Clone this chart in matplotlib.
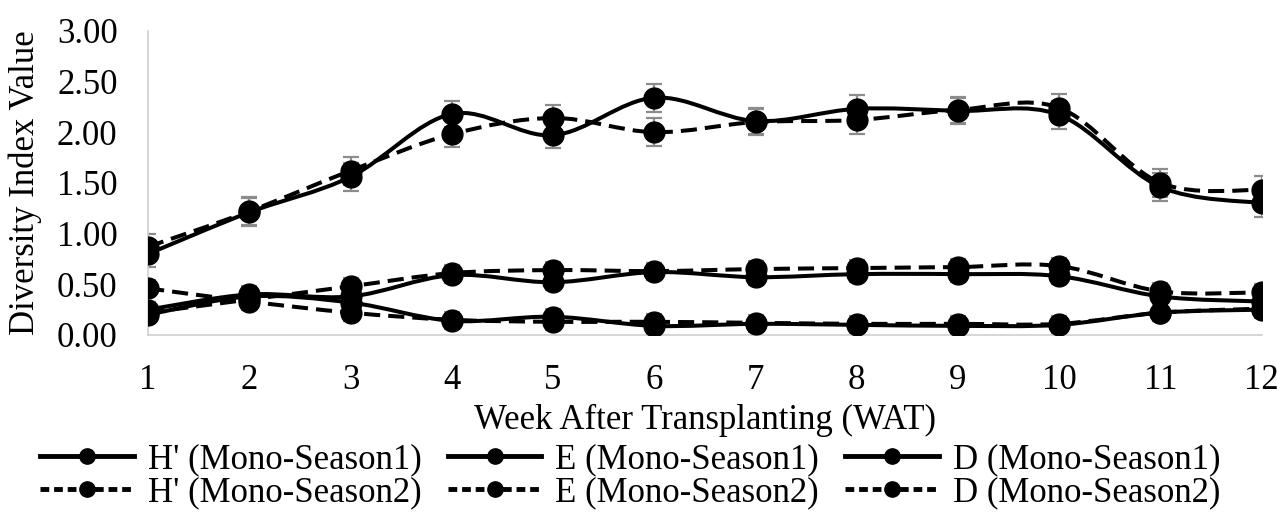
import numpy as np
import matplotlib.pyplot as plt
from matplotlib.path import Path
from matplotlib.patches import PathPatch
from matplotlib.lines import Line2D

plt.rcParams['font.family'] = ['Liberation Serif', 'DejaVu Serif']

WEEKS = [1, 2, 3, 4, 5, 6, 7, 8, 9, 10, 11, 12]

# Shannon H'
H_S1 = [0.80, 1.21, 1.56, 2.18, 1.97, 2.34, 2.11, 2.23, 2.21, 2.17, 1.46, 1.30]
H_S2 = [0.87, 1.22, 1.62, 1.98, 2.14, 2.00, 2.10, 2.12, 2.22, 2.24, 1.50, 1.43]
# Evenness E
E_S1 = [0.25, 0.40, 0.38, 0.59, 0.52, 0.62, 0.57, 0.60, 0.60, 0.58, 0.38, 0.33]
E_S2 = [0.22, 0.35, 0.48, 0.61, 0.64, 0.63, 0.65, 0.66, 0.67, 0.68, 0.43, 0.42]
# Dominance D
D_S1 = [0.20, 0.38, 0.32, 0.14, 0.18, 0.09, 0.11, 0.10, 0.09, 0.10, 0.22, 0.25]
D_S2 = [0.46, 0.33, 0.22, 0.15, 0.13, 0.13, 0.12, 0.11, 0.11, 0.11, 0.22, 0.26]

# standard errors
H_ERR = [0.13, 0.14, 0.14, 0.13, 0.13, 0.14, 0.13, 0.14, 0.13, 0.14, 0.14, 0.14]
ED_ERR = [0.08, 0.08, 0.08, 0.08, 0.08, 0.08, 0.08, 0.08, 0.08, 0.08, 0.08, 0.08]

LABELS = ["H' (Mono-Season1)", "E (Mono-Season1)", "D (Mono-Season1)",
          "H' (Mono-Season2)", "E (Mono-Season2)", "D (Mono-Season2)"]

FS = 25
DASH = (0, (4, 2))


def smooth_path(x, y):
    # Excel-style smoothed line: Catmull-Rom as cubic Beziers
    pts = np.column_stack([x, y]).astype(float)
    ext = np.vstack([pts[0], pts, pts[-1]])
    verts = [pts[0]]
    codes = [Path.MOVETO]
    for i in range(1, len(ext) - 2):
        p0, p1, p2, p3 = ext[i - 1], ext[i], ext[i + 1], ext[i + 2]
        verts += [p1 + (p2 - p0) / 6, p2 - (p3 - p1) / 6, p2]
        codes += [Path.CURVE4] * 3
    return Path(verts, codes)


fig = plt.figure(figsize=(12.77, 5.13), dpi=100)
ax = fig.add_axes([0.116, 0.347, 0.872, 0.593])

series = [(H_S1, H_ERR, '-'), (E_S1, ED_ERR, '-'), (D_S1, ED_ERR, '-'),
          (H_S2, H_ERR, DASH), (E_S2, ED_ERR, DASH), (D_S2, ED_ERR, DASH)]

for vals, err, ls in series:
    ax.errorbar(WEEKS, vals, yerr=err, fmt='none', ecolor='#8c8c8c',
                elinewidth=1.6, capsize=5.5, capthick=1.6, zorder=2)
    ax.add_patch(PathPatch(smooth_path(WEEKS, vals), fill=False,
                           edgecolor='black', lw=2.9, linestyle=ls, zorder=3))
    ax.plot(WEEKS, vals, linestyle='none', marker='o', ms=15,
            color='black', zorder=4)

ax.set_xlim(1, 12)
ax.set_ylim(0, 3)
ax.set_xticks(WEEKS)
ax.set_yticks(np.arange(0, 3.01, 0.5))
ax.set_yticklabels([f'{v:.2f}' for v in np.arange(0, 3.01, 0.5)])
ax.tick_params(length=0, labelsize=FS)
ax.tick_params(axis='x', pad=21)
ax.tick_params(axis='y', pad=22)
for s in ['top', 'right']:
    ax.spines[s].set_visible(False)
for s in ['left', 'bottom']:
    ax.spines[s].set_color('#d0d0d0')
    ax.spines[s].set_linewidth(1.2)

fig.text(0.552, 1 - 420 / 513, 'Week After Transplanting (WAT)',
         ha='center', va='center', fontsize=FS)
fig.text(0.020, 1 - 183 / 513, 'Diversity Index Value', rotation=90,
         ha='center', va='center', fontsize=FS)

handles = []
for i, lab in enumerate(LABELS):
    ls = '-' if i < 3 else (0, (1.8, 1.0))
    handles.append(Line2D([], [], color='black', lw=3.5, linestyle=ls,
                          marker='o', ms=11, label=lab))
order = [0, 3, 1, 4, 2, 5]
fig.legend([handles[i] for i in order], [LABELS[i] for i in order],
           ncol=3, loc='center', bbox_to_anchor=(0.4935, 1 - 476 / 513),
           frameon=False, fontsize=FS, handlelength=2.7, handletextpad=0.4,
           columnspacing=0.75, labelspacing=0.0, borderpad=0, borderaxespad=0)

fig.savefig('out.png', dpi=100)
